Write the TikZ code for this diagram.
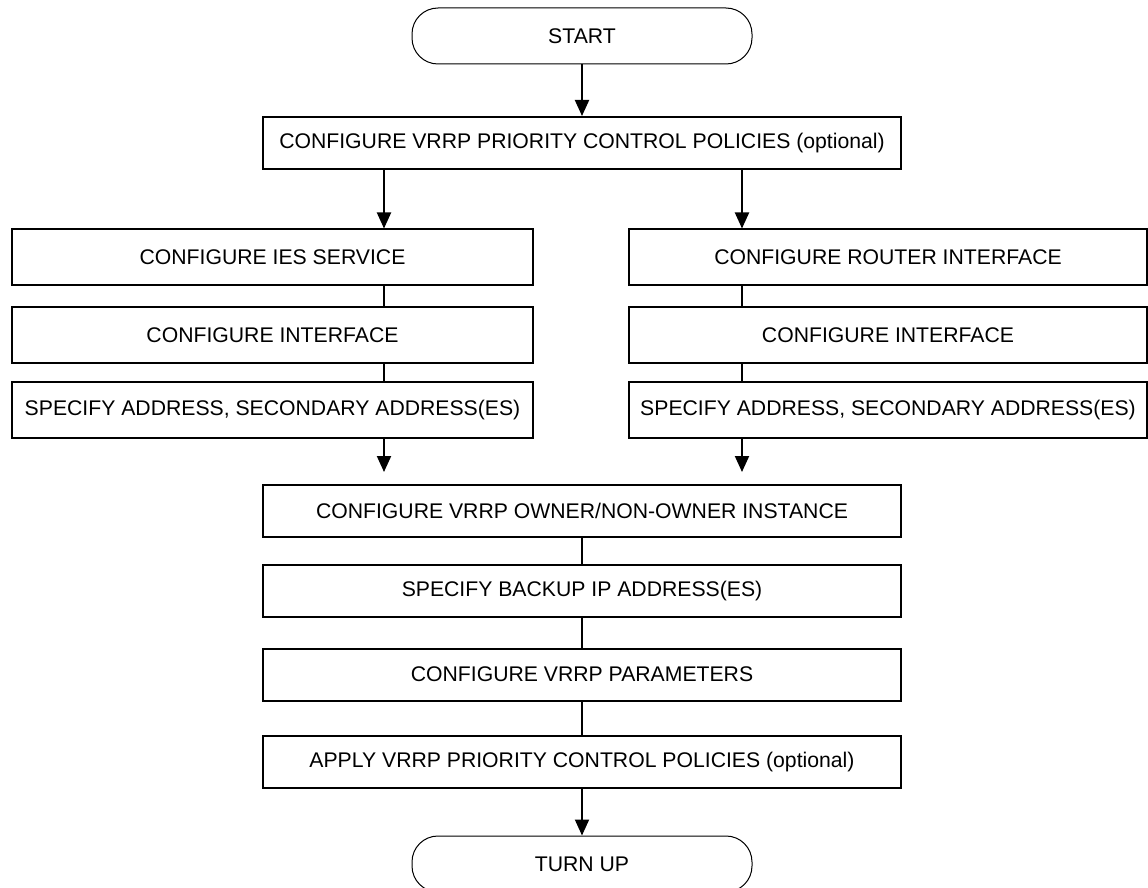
\documentclass[tikz,border=0pt]{standalone}
\usepackage{fontspec}
\setmainfont{Liberation Sans}
\usetikzlibrary{arrows.meta}

\tikzset{
    stepbox/.style={draw, line width=1pt, minimum height=26pt, inner sep=0pt,
        font=\fontsize{10.6}{12}\selectfont},
    midbox/.style={stepbox, minimum width=319pt},
    leftbox/.style={stepbox, minimum width=260.5pt, minimum height=28pt},
    rightbox/.style={stepbox, minimum width=259pt, minimum height=28pt},
    endbox/.style={draw, line width=0.5pt, rounded corners=13pt, minimum width=170pt,
        minimum height=28pt, font=\fontsize{10.6}{12}\selectfont},
    flow/.style={line width=1pt, -{Triangle[width=7pt,length=8pt]}},
    link/.style={line width=1pt}
}

\begin{document}
\begin{tikzpicture}[x=0.5pt,y=-0.5pt]
        \useasboundingbox (0,0) rectangle (1148,888);
        \node[endbox] (start) at (582,36) {START};
        \node[midbox] (cfgpol) at (582,143) {CONFIGURE VRRP PRIORITY CONTROL POLICIES (optional)};
        \node[leftbox] (ies) at (272.5,257.5) {CONFIGURE IES SERVICE};
        \node[leftbox] (iesif) at (272.5,335.5) {CONFIGURE INTERFACE};
        \node[leftbox] (iesaddr) at (272.5,410) {SPECIFY ADDRESS, SECONDARY ADDRESS(ES)};
        \node[rightbox] (rtr) at (888,257.5) {CONFIGURE ROUTER INTERFACE};
        \node[rightbox] (rtrif) at (888,335.5) {CONFIGURE INTERFACE};
        \node[rightbox] (rtraddr) at (888,410) {SPECIFY ADDRESS, SECONDARY ADDRESS(ES)};
        \node[midbox] (owner) at (582,511) {CONFIGURE VRRP OWNER/NON-OWNER INSTANCE};
        \node[midbox] (backup) at (582,591) {SPECIFY BACKUP IP ADDRESS(ES)};
        \node[midbox] (params) at (582,674.5) {CONFIGURE VRRP PARAMETERS};
        \node[midbox] (apply) at (582,762) {APPLY VRRP PRIORITY CONTROL POLICIES (optional)};
        \node[endbox] (turnup) at (582,864) {TURN UP};

        \coordinate (lx) at (384,0);
        \coordinate (rx) at (742,0);

        \draw[flow] (start) -- (cfgpol);
        \draw[flow] (cfgpol.south -| lx) -- (ies.north -| lx);
        \draw[flow] (cfgpol.south -| rx) -- (rtr.north -| rx);
        \draw[link] (ies.south -| lx) -- (iesif.north -| lx);
        \draw[link] (iesif.south -| lx) -- (iesaddr.north -| lx);
        \draw[link] (rtr.south -| rx) -- (rtrif.north -| rx);
        \draw[link] (rtrif.south -| rx) -- (rtraddr.north -| rx);
        \draw[flow, shorten >=6pt] (iesaddr.south -| lx) -- (owner.north -| lx);
        \draw[flow, shorten >=6pt] (rtraddr.south -| rx) -- (owner.north -| rx);
        \draw[link] (owner) -- (backup);
        \draw[link] (backup) -- (params);
        \draw[link] (params) -- (apply);
        \draw[flow] (apply) -- (turnup);
\end{tikzpicture}
\end{document}
